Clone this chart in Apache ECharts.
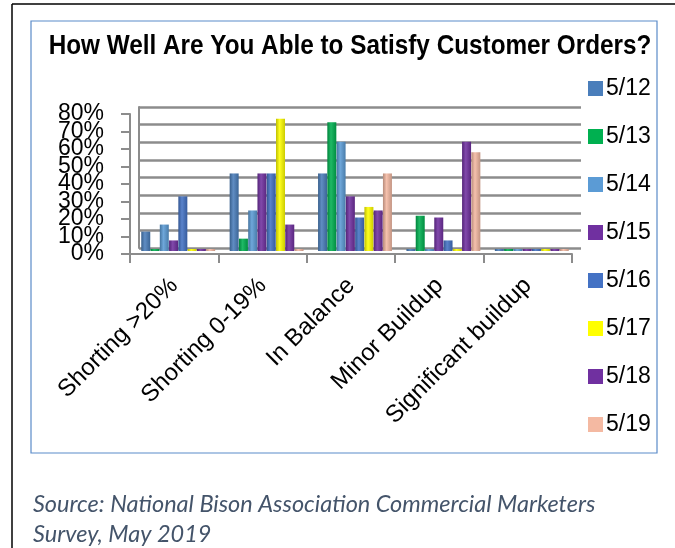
<!DOCTYPE html>
<html>
<head>
<meta charset="utf-8">
<script src="https://cdn.jsdelivr.net/npm/echarts@6/dist/echarts.min.js"></script>
<style>
  html, body { margin: 0; padding: 0; background: #fff; }
  #chart { width: 675px; height: 548px; }
</style>
</head>
<body>
<div id="chart"></div>
<script>
const titleText = 'How Well Are You Able to Satisfy Customer Orders?';
const sourceText = 'Source: National Bison Association Commercial Marketers\nSurvey, May 2019';
const categories = ['Shorting >20%', 'Shorting 0-19%', 'In Balance', 'Minor Buildup', 'Significant buildup'];
const seriesNames = ['5/12', '5/13', '5/14', '5/15', '5/16', '5/17', '5/18', '5/19'];
const yTicksA = [0, 20, 40, 60, 80];
const yTicksB = [10, 30, 50, 70];

const v512 = [11, 44, 44, 0, 0];
const v513 = [0, 7, 73, 20, 0];
const v514 = [15, 23, 62, 0, 0];
const v515 = [6, 44, 31, 19, 0];
const v516 = [31, 44, 19, 6, 0];
const v517 = [0, 75, 25, 0, 0];
const v518 = [0, 15, 23, 62, 0];
const v519 = [0, 0, 44, 56, 0];
const seriesValues = [v512, v513, v514, v515, v516, v517, v518, v519];

const colors = ['#4A7EBB', '#00B050', '#5B9BD5', '#7030A0', '#4472C4', '#FFFF00', '#7030A0', '#F4B9A2'];

function shade(hex, f) {
  const n = parseInt(hex.slice(1), 16);
  let r = (n >> 16) & 255, g = (n >> 8) & 255, b = n & 255;
  if (f < 0) { r = r * (1 + f); g = g * (1 + f); b = b * (1 + f); }
  else { r = r + (255 - r) * f; g = g + (255 - g) * f; b = b + (255 - b) * f; }
  return 'rgb(' + Math.round(r) + ',' + Math.round(g) + ',' + Math.round(b) + ')';
}
function grad(c) {
  return new echarts.graphic.LinearGradient(0, 0, 1, 0, [
    { offset: 0, color: shade(c, -0.25) },
    { offset: 0.4, color: shade(c, 0.12) },
    { offset: 1, color: shade(c, -0.2) }
  ]);
}

const FONT = 'Liberation Sans, Arial, sans-serif';
const chart = echarts.init(document.getElementById('chart'), null, { renderer: 'canvas' });

const gridColor = '#8c8c8c';
const yLabelBase = { margin: 26, fontFamily: FONT, fontSize: 23, color: '#000', showMinLabel: true, showMaxLabel: true };

const option = {
  animation: false,
  backgroundColor: '#fff',
  title: [
    {
      text: sourceText,
      left: 28, top: 484,
      textStyle: { fontFamily: 'Lato, Open Sans, sans-serif', fontStyle: 'italic', fontWeight: 'normal', fontSize: 23.5, lineHeight: 30, color: '#44546A' }
    }
  ],
  legend: {
    orient: 'vertical', left: 583, top: 72,
    itemWidth: 15, itemHeight: 15, itemGap: 25,
    icon: 'rect',
    textStyle: { fontFamily: FONT, fontSize: 23, lineHeight: 22, color: '#000', padding: [0, 0, 0, -2] },
    data: seriesNames.map((n, i) => ({ name: n, itemStyle: { color: colors[i] } }))
  },
  grid: [
    { left: 139, top: 107, width: 442, height: 141 },
    { left: 134, top: 110, width: 442, height: 141 },
    { left: 130, top: 114, width: 442, height: 140 }
  ],
  xAxis: [
    { type: 'category', gridIndex: 0, data: categories, show: false },
    { type: 'category', gridIndex: 1, data: categories, show: false },
    {
      type: 'category', gridIndex: 2, data: categories,
      axisLine: { show: true, lineStyle: { color: gridColor, width: 2 } },
      axisTick: { show: true, length: 9, lineStyle: { color: gridColor, width: 2 } },
      axisLabel: { rotate: 45, margin: 28, fontFamily: FONT, fontSize: 24, color: '#000', interval: 0 }
    }
  ],
  yAxis: [
    {
      type: 'value', gridIndex: 0, min: 0, max: 80, interval: 10,
      axisLabel: { show: false }, axisTick: { show: false },
      axisLine: { show: true, lineStyle: { color: gridColor, width: 2 } },
      splitLine: { show: true, lineStyle: { color: gridColor, width: 2.5 } }
    },
    {
      type: 'value', gridIndex: 1, min: 0, max: 80, interval: 10, show: false,
      splitLine: { show: false }
    },
    {
      type: 'value', gridIndex: 2, min: 0, max: 80, interval: 10, position: 'left',
      axisLine: { show: true, lineStyle: { color: gridColor, width: 2 } },
      axisTick: { show: true, length: 9, lineStyle: { color: gridColor, width: 2 } },
      splitLine: { show: false },
      axisLabel: Object.assign({}, yLabelBase, { formatter: v => yTicksA.includes(v) ? v + '%' : '' })
    },
    {
      type: 'value', gridIndex: 2, min: 0, max: 80, interval: 10, position: 'left', offset: 0,
      axisLine: { show: false }, axisTick: { show: false }, splitLine: { show: false },
      axisLabel: Object.assign({}, yLabelBase, { formatter: v => yTicksB.includes(v) ? v + '%' : '' })
    }
  ],
  series: seriesNames.map((n, i) => ({
    name: n,
    type: 'bar',
    xAxisIndex: 1, yAxisIndex: 1,
    data: seriesValues[i],
    barWidth: 9,
    barGap: '3%',
    barMinHeight: 2,
    color: colors[i],
    itemStyle: { color: grad(colors[i]) }
  })),
  graphic: [
    { type: 'line', shape: { x1: 12, y1: 4, x2: 675, y2: 4 }, style: { stroke: '#000', lineWidth: 1.5 } },
    { type: 'line', shape: { x1: 12, y1: 4, x2: 12, y2: 548 }, style: { stroke: '#000', lineWidth: 1.5 } },
    { type: 'rect', shape: { x: 31, y: 21, width: 626, height: 432 }, style: { fill: 'none', stroke: '#5B8BC9', lineWidth: 1.2 }, z: -1 },
    {
      type: 'text', x: 350, y: 47, scaleX: 0.9, z: 10,
      style: {
        text: titleText, textAlign: 'center', textVerticalAlign: 'middle',
        fontFamily: FONT, fontWeight: 'bold', fontSize: 27, fill: '#000'
      }
    }
  ]
};
chart.setOption(option);
</script>
</body>
</html>
